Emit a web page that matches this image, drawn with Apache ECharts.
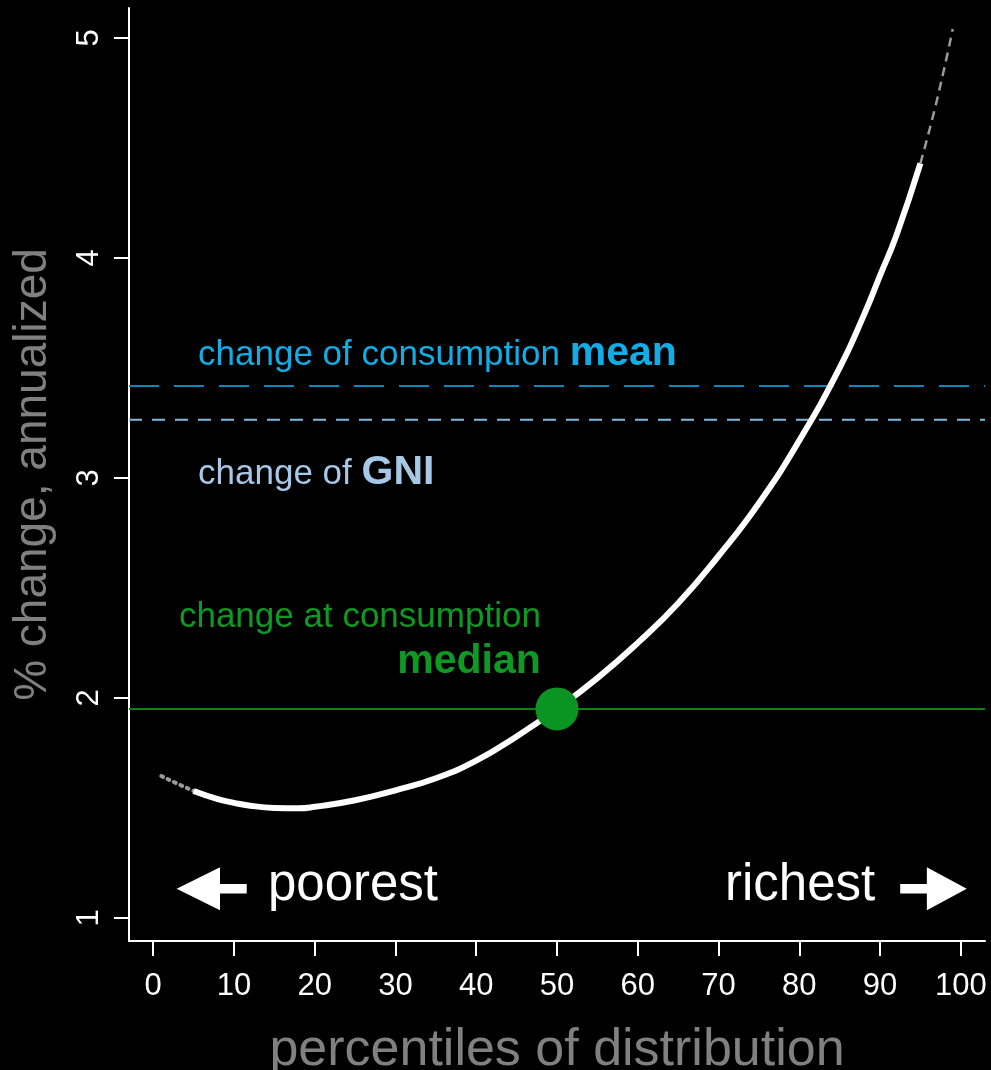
<!DOCTYPE html>
<html><head><meta charset="utf-8">
<script src="https://cdn.jsdelivr.net/npm/echarts@6/dist/echarts.min.js"></script>
<style>html,body{margin:0;padding:0;background:#000;} #c{width:991px;height:1070px;}</style>
</head><body><div id="c"></div>
<script>
// ---- data ----
const percentiles  = [1, 3, 5, 8, 10, 12, 15, 18, 20, 25, 30, 35, 40, 45, 50, 55, 60, 65, 70, 75, 80, 85, 88, 90, 92, 95, 97, 99];
const changeValues = [1.645, 1.61, 1.577, 1.54, 1.523, 1.51, 1.50, 1.498, 1.505, 1.535, 1.58, 1.635, 1.715, 1.825, 1.95, 2.09, 2.25, 2.43, 2.645, 2.885, 3.17, 3.50, 3.74, 3.92, 4.10, 4.43, 4.71, 5.04];
const meanChange = 3.418;     // change of consumption mean
const gniChange = 3.264;      // change of GNI
const medianPercentile = 50;
const medianChange = 1.95;    // change at consumption median
const xTickValues = [0, 10, 20, 30, 40, 50, 60, 70, 80, 90, 100];
const yTickValues = [1, 2, 3, 4, 5];
const xRange = [-3, 103];
const yRange = [0.895, 5.136];

const FONT = '"Liberation Sans", Arial, Helvetica, sans-serif';
const pts = percentiles.map((p, i) => [p, changeValues[i]]);
const leftTail = pts.filter(d => d[0] <= 5);
const body = pts.filter(d => d[0] >= 5 && d[0] <= 95);
const rightTail = pts.filter(d => d[0] >= 95);

const chart = echarts.init(document.getElementById('c'), null, {renderer: 'canvas'});
chart.setOption({
  backgroundColor: '#000',
  animation: false,
  grid: {left: 129, top: 8, right: 6, bottom: 129, containLabel: false, outerBoundsMode: 'none'},
  xAxis: {
    type: 'value', min: xRange[0], max: xRange[1],
    name: 'percentiles of distribution', nameLocation: 'middle', nameGap: 84,
    nameTextStyle: {color: '#808080', fontSize: 52, fontFamily: FONT},
    axisLine: {onZero: false, lineStyle: {color: '#fff', width: 2}},
    axisTick: {show: true, length: 15, lineStyle: {color: '#fff', width: 2}, customValues: xTickValues},
    axisLabel: {color: '#fff', fontSize: 31, margin: 30, fontFamily: FONT, customValues: xTickValues},
    splitLine: {show: false}
  },
  yAxis: {
    type: 'value', min: yRange[0], max: yRange[1],
    name: '% change, annualized', nameLocation: 'middle', nameGap: 73,
    nameTextStyle: {color: '#808080', fontSize: 46, fontFamily: FONT},
    axisLine: {show: true, onZero: false, lineStyle: {color: '#fff', width: 2}},
    axisTick: {show: true, length: 15, lineStyle: {color: '#fff', width: 2}, customValues: yTickValues},
    axisLabel: {color: '#fff', fontSize: 31, margin: 24, rotate: 90, fontFamily: FONT, customValues: yTickValues},
    splitLine: {show: false}
  },
  series: [
    {type: 'line', data: [[xRange[0], meanChange], [xRange[1], meanChange]], symbol: 'none', silent: true,
     lineStyle: {color: '#0a88b8', width: 2, type: [30, 15]}},
    {type: 'line', data: [[xRange[0], gniChange], [xRange[1], gniChange]], symbol: 'none', silent: true,
     lineStyle: {color: '#82b8dd', width: 2, type: [13, 10]}},
    {type: 'line', data: [[xRange[0], medianChange], [xRange[1], medianChange]], symbol: 'none', silent: true,
     lineStyle: {color: '#0a8214', width: 2}},
    {type: 'line', data: leftTail, symbol: 'none', smooth: 0.5,
     lineStyle: {color: '#9a9a9a', width: 4, type: [2, 5], cap: 'round'}},
    {type: 'line', data: rightTail, symbol: 'none', smooth: 0.5,
     lineStyle: {color: '#9a9a9a', width: 2.5, type: [9, 6]}},
    {type: 'line', data: body, symbol: 'none', smooth: 0.5,
     lineStyle: {color: '#ffffff', width: 6}},
    {type: 'scatter', data: [[medianPercentile, medianChange]], symbol: 'circle', symbolSize: 43,
     itemStyle: {color: '#0a9421', opacity: 1}, z: 5}
  ]
});

// ---- annotations (positioned in data coordinates) ----
function px(x, y) { return chart.convertToPixel({gridIndex: 0}, [x, y]); }
function textAt(x, yBase, str, opt) {
  const p = px(x, yBase);
  const fs = opt.fontSize;
  return {type: 'text', x: p[0], y: p[1] - 0.31 * fs, z: 10,
    style: {text: str, fill: opt.color, font: (opt.bold ? 'bold ' : '') + fs + 'px ' + FONT,
            align: opt.align || 'left', verticalAlign: 'middle'}};
}
function arrow(tipX, baseX, tailX, yv, headHalf, shaftHalf) {
  const t = px(tipX, yv), b = px(baseX, yv), e = px(tailX, yv);
  const y = t[1];
  return {type: 'polygon', z: 10, shape: {points: [
      [t[0], y], [b[0], y - headHalf], [b[0], y - shaftHalf], [e[0], y - shaftHalf],
      [e[0], y + shaftHalf], [b[0], y + shaftHalf], [b[0], y + headHalf]]},
    style: {fill: '#fff'}};
}
function widthOf(s, font) {
  const c = document.createElement('canvas').getContext('2d'); c.font = font; return c.measureText(s).width;
}
const NFS = 35, BFS = 41;
const meanLbl1 = textAt(5.55, 3.509, 'change of consumption ', {fontSize: NFS, color: '#12ade6'});
const gniLbl1 = textAt(5.55, 2.968, 'change of ', {fontSize: NFS, color: '#a6c8e6'});
const meanW = widthOf('change of consumption ', NFS + 'px ' + FONT);
const gniW = widthOf('change of ', NFS + 'px ' + FONT);
const xStart = px(5.55, 3.509)[0];
const meanBold = textAt(5.55, 3.509, 'mean', {fontSize: BFS, color: '#12ade6', bold: true}); meanBold.x = xStart + meanW;
const gniBold = textAt(5.55, 2.968, 'GNI', {fontSize: BFS, color: '#a6c8e6', bold: true}); gniBold.x = xStart + gniW;

chart.setOption({graphic: [
  meanLbl1, meanBold, gniLbl1, gniBold,
  textAt(48.0, 2.318, 'change at consumption', {fontSize: NFS, color: '#0e9a22', align: 'right'}),
  textAt(48.0, 2.105, 'median', {fontSize: BFS, color: '#0e9a22', align: 'right', bold: true}),
  textAt(14.2, 1.073, 'poorest', {fontSize: 51, color: '#fff'}),
  textAt(89.4, 1.073, 'richest', {fontSize: 51, color: '#fff', align: 'right'}),
  arrow(2.9, 8.27, 11.58, 1.132, 21.5, 4.75),
  arrow(100.74, 95.8, 92.5, 1.132, 21.5, 4.75)
]});
</script></body></html>
